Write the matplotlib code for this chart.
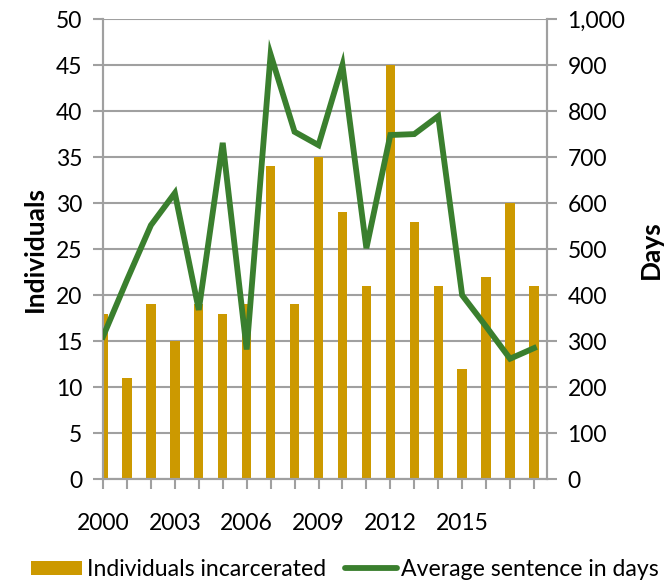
import matplotlib
matplotlib.use("Agg")
import matplotlib.pyplot as plt
from matplotlib.patches import Patch
from matplotlib.lines import Line2D
from matplotlib.ticker import FuncFormatter, MultipleLocator

plt.rcParams['font.family'] = ['Lato', 'DejaVu Sans']

# data
years = list(range(2000, 2019))
individuals = [18, 11, 19, 15, 19, 18, 19, 34, 19, 35, 29, 21, 45, 28, 21, 12, 22, 30, 21]
avg_days = [310, 433, 552, 622, 368, 731, 282, 923, 755, 726, 900, 502, 748, 750, 789, 400, 332, 262, 285]
tick_years = [2000, 2003, 2006, 2009, 2012, 2015]

bar_color = '#CC9900'
line_color = '#3A7F2E'
grid_color = '#A0A0A0'

fig = plt.figure(figsize=(6.72, 5.8), dpi=100)
ax = fig.add_axes([0.1533, 0.1736, 0.6602, 0.7936])

ax.bar(years, individuals, width=0.39, color=bar_color, zorder=2)
ax.set_xlim(2000, 2018.53)
ax.set_ylim(0, 50)
ax.yaxis.set_major_locator(MultipleLocator(5))
ax.set_xticks(years)
ax.set_xticklabels([str(y) if y in tick_years else '' for y in years])
ax.grid(axis='y', color=grid_color, linewidth=1.5)
ax.set_axisbelow(True)
ax.set_ylabel('Individuals', fontsize=19, fontweight='bold', labelpad=6)

ax2 = ax.twinx()
ax2.plot(years, avg_days, color=line_color, linewidth=4.2, solid_joinstyle='miter', zorder=3)
ax2.set_ylim(0, 1000)
ax2.yaxis.set_major_locator(MultipleLocator(100))
ax2.yaxis.set_major_formatter(FuncFormatter(lambda v, p: f'{int(v):,}'))
ax2.set_ylabel('Days', fontsize=19, fontweight='bold', labelpad=10)

for a in (ax, ax2):
    for s in a.spines.values():
        s.set_color(grid_color)
        s.set_linewidth(1.5)
    a.spines['top'].set_visible(False)
    a.tick_params(axis='both', direction='out', length=7, width=1.5, color=grid_color,
                  labelsize=16.5, pad=8)
ax.tick_params(axis='x', pad=17)

handles = [Patch(facecolor=bar_color, edgecolor='none'),
           Line2D([0], [0], color=line_color, linewidth=4.2, solid_capstyle='round')]
fig.legend(handles, ['Individuals incarcerated', 'Average sentence in days'],
           loc='center', bbox_to_anchor=(0.513, 0.018), ncol=2, frameon=False,
           fontsize=16.6, handlelength=2.25, handleheight=0.6, handletextpad=0.2,
           columnspacing=0.8)

fig.savefig('out.png', dpi=100)
